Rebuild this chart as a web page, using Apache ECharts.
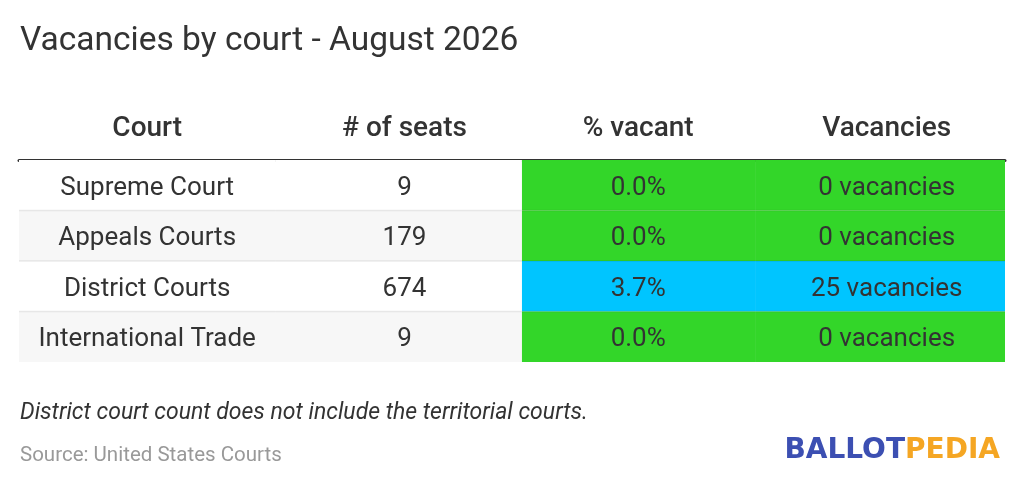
<!DOCTYPE html>
<html lang="en">
<head>
  <meta charset="UTF-8">
  <title>Vacancies by court</title>
  <script src="https://cdn.jsdelivr.net/npm/echarts@6/dist/echarts.min.js"></script>
  <style>
    html, body { margin: 0; padding: 0; background: #fff; }
    #main { width: 1024px; height: 485px; }
  </style>
</head>
<body>
<div id="main"></div>
<script>
  // table data
  var headers = ['Court', '# of seats', '% vacant', 'Vacancies'];
  var courts = ['Supreme Court', 'Appeals Courts', 'District Courts', 'International Trade'];
  var seats = [9, 179, 674, 9];
  var pctVacant = [0.0, 0.0, 3.7, 0.0];
  var vacancies = [0, 0, 25, 0];

  // layout (fractions of table width)
  var colEdges = [0, 0.2606, 0.5101, 0.7465, 1];
  var textPos = [0.13, 0.391, 0.628, 0.880];

  var cells = [];
  courts.forEach(function (name, r) {
    var stripe = r % 2 ? '#f7f7f7' : '#ffffff';
    var status = vacancies[r] > 0 ? '#00c5ff' : '#33d629';
    cells.push({ value: [0, r], text: name, fill: stripe });
    cells.push({ value: [1, r], text: String(seats[r]), fill: stripe });
    cells.push({ value: [2, r], text: pctVacant[r].toFixed(1) + '%', fill: status });
    cells.push({ value: [3, r], text: vacancies[r] + ' vacancies', fill: status });
  });

  var font = 'Roboto, "Noto Sans", sans-serif';

  var chart = echarts.init(document.getElementById('main'));
  var option = {
    backgroundColor: '#fff',
    animation: false,
    title: [
      {
        text: 'Vacancies by court - August 2026',
        left: 15, top: 20,
        textStyle: { fontFamily: font, fontSize: 33.5, fontWeight: 'normal', color: '#333' }
      },
      {
        text: 'District court count does not include the territorial courts.',
        left: 15, top: 397,
        textStyle: { fontFamily: font, fontSize: 23, fontStyle: 'italic', fontWeight: 'normal', color: '#333' }
      },
      {
        text: 'Source: United States Courts',
        left: 15, top: 440,
        textStyle: { fontFamily: font, fontSize: 20.5, fontWeight: 'normal', color: '#999' }
      },
      {
        text: '{a|BALLOT}{b|PEDIA}',
        right: 19, top: 432,
        textStyle: {
          rich: {
            a: { fontFamily: '"DejaVu Sans", sans-serif', fontSize: 28, fontWeight: 'bold', color: '#3c4fb2' },
            b: { fontFamily: '"DejaVu Sans", sans-serif', fontSize: 28, fontWeight: 'bold', color: '#f5a623' }
          }
        }
      }
    ],
    grid: { left: 19, right: 19, top: 160, bottom: 123 },
    xAxis: {
      type: 'value', min: 0, max: 1, position: 'top',
      axisLine: { show: true, lineStyle: { color: '#333', width: 3 } },
      axisTick: { show: false }, axisLabel: { show: false }, splitLine: { show: false }
    },
    yAxis: {
      type: 'value', min: 0, max: courts.length, inverse: true,
      axisLine: { show: false }, axisTick: { show: false },
      axisLabel: { show: false }, splitLine: { show: false }
    },
    series: [
      {
        type: 'custom',
        data: cells,
        clip: false,
        renderItem: function (params, api) {
          var c = api.value(0), r = api.value(1);
          var cell = cells[params.dataIndex];
          var p0 = api.coord([colEdges[c], r]);
          var p1 = api.coord([colEdges[c + 1], r + 1]);
          var mid = api.coord([textPos[c], r + 0.5]);
          var children = [
            {
              type: 'rect',
              shape: { x: p0[0], y: p0[1], width: p1[0] - p0[0], height: p1[1] - p0[1] },
              style: { fill: cell.fill }
            },
            {
              type: 'text',
              x: mid[0], y: mid[1] + 3,
              style: {
                text: cell.text, fill: '#333', font: '26px ' + font,
                align: 'center', verticalAlign: 'middle'
              }
            }
          ];
          if (r > 0) {
            children.push({
              type: 'line',
              shape: { x1: p0[0], y1: p0[1], x2: p1[0], y2: p0[1] },
              style: { stroke: 'rgba(0,0,0,0.08)', lineWidth: 1.5 }
            });
          }
          return { type: 'group', children: children };
        }
      },
      {
        type: 'custom',
        data: headers.map(function (h, i) { return [i]; }),
        clip: false,
        renderItem: function (params, api) {
          var i = api.value(0);
          var p = api.coord([textPos[i], -0.65]);
          return {
            type: 'text',
            x: p[0], y: p[1] + 2,
            style: {
              text: headers[i], fill: '#333', font: '500 28px ' + font,
              align: 'center', verticalAlign: 'middle'
            }
          };
        }
      }
    ]
  };
  chart.setOption(option);
</script>
</body>
</html>
